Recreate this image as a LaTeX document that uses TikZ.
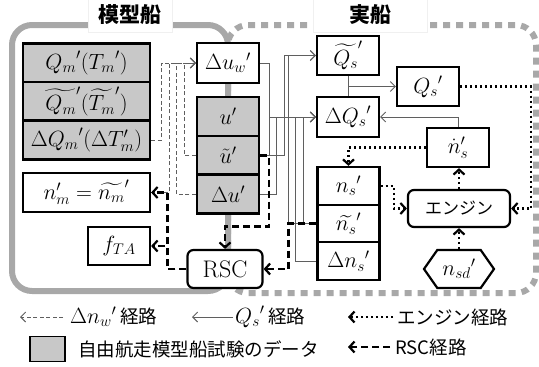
\RequirePackage{fix-cm}
\documentclass[tikz,border=0pt]{standalone}
\usepackage{amsmath}
\usepackage{fontspec}
\newfontfamily\jpfont{Noto Sans CJK JP}
\usetikzlibrary{arrows.meta,shapes.symbols}
\definecolor{shipgray}{RGB}{168,168,168}
\definecolor{datagray}{RGB}{200,200,200}
\definecolor{linegray}{RGB}{95,95,95}
\newcommand{\mathsz}{\fontsize{22}{25}\selectfont}
\newcommand{\jpsz}{\fontsize{18.5}{22}\selectfont\jpfont}

\begin{document}
\begin{tikzpicture}[x=1pt,y=-1pt,
    box/.style={draw,line width=2.2pt,fill=white,minimum width=62pt,
                minimum height=39pt,inner sep=0pt,font=\mathsz},
    data/.style={box,fill=datagray},
    rbox/.style={box,rounded corners=6pt},
    qpath/.style={draw=linegray,line width=0.9pt,-{Straight Barb[length=5pt,width=10pt]}},
    wpath/.style={draw=linegray,line width=0.9pt,dash pattern=on 4pt off 2.5pt,
                  -{Straight Barb[length=5pt,width=10pt]}},
    rpath/.style={line width=2.2pt,dash pattern=on 7pt off 4pt,-{Straight Barb[length=5pt,width=11pt]}},
    epath/.style={line width=2.2pt,dash pattern=on 2.2pt off 2.8pt,-{Straight Barb[length=5pt,width=11pt]}},
    shiplabel/.style={fill=white,draw=black!6,minimum height=35pt,
                      font=\fontsize{21}{24}\selectfont\jpfont\bfseries},
    legtext/.style={anchor=west,inner sep=0pt}]
  \useasboundingbox (0,0) rectangle (539,367);
  \draw[shipgray,line width=6pt,dash pattern=on 7pt off 6pt,rounded corners=20pt]
    (228,25) rectangle (536,293);
  \draw[shipgray,line width=6pt,rounded corners=20pt] (12,25) rectangle (228,291);
  \node[shiplabel,minimum width=84pt] (model) at (130,15) {模型船};
  \node[shiplabel,minimum width=114pt] (real) at (370,15) {実船};

  \node[data,minimum width=127pt] (qm)  at (86.5,63)    {${Q_m}'({T_m}')$};
  \node[data,minimum width=127pt] (qmt) at (86.5,101.5) {$\widetilde{Q_m}'(\widetilde{T_m}')$};
  \node[data,minimum width=127pt] (dqm) at (86.5,140)   {$\Delta{Q_m}'(\Delta T'_m)$};
  \node[box,minimum width=127pt]  (nm)  at (86.5,192.5) {$n'_m=\widetilde{n_m}'$};
  \node[box,minimum height=38pt]  (fta) at (119,246)    {$f_{TA}$};

  \node[box,minimum height=40pt] (duw) at (228,63)    {$\Delta{u_w}'$};
  \node[data] (u)  at (228,116.5) {$u'$};
  \node[data] (ut) at (228,155.5) {$\tilde{u}'$};
  \node[data] (du) at (228,194)   {$\Delta u'$};
  \node[rbox,minimum width=75pt,minimum height=38pt,font=\fontsize{24}{28}\selectfont]
    (rsc) at (225,269) {RSC};

  \node[box] (qst)   at (348,55.5)  {$\widetilde{Q_s}'$};
  \node[box] (qs)    at (428,86.5)  {${Q_s}'$};
  \node[box,minimum height=40pt] (dqs) at (348,117) {$\Delta{Q_s}'$};
  \node[box] (dotns) at (458,147.5) {${\dot{n}_s}'$};
  \node[box,minimum height=37.7pt] (ns)  at (348.5,185.8) {${n_s}'$};
  \node[box,minimum height=37.7pt] (nst) at (348.5,223.5) {$\widetilde{n_s}'$};
  \node[box,minimum height=37.7pt] (dns) at (348.5,261.2) {$\Delta{n_s}'$};
  \node[rbox,minimum width=102pt,minimum height=37pt,font=\fontsize{17}{20}\selectfont\jpfont]
    (eng) at (459,208.5) {エンジン};
  \node[box,shape=signal,signal to=east and west,signal pointer angle=110,
        minimum width=70pt,minimum height=38pt] (nsd) at (459,269) {${n_{sd}}'$};

  \draw[wpath] (dqm.east) -- ++(10,0) |- (duw.west);
  \draw[wpath] (nm.east) -- ++(18,0) |- (duw.west);
  \draw[wpath] (du.west) -- ++(-19,0) |- (duw.west);
  \draw[wpath] (ut.west) -- ++(-11,0) |- (duw.west);

  \draw[qpath] (duw.east) -- ++(9,0) |- (dqs.west);
  \draw[qpath] (ut.east) -- ++(9,0) |- (dqs.west);
  \draw[qpath] (du.east) -- ++(16,0) |- (dqs.west);
  \draw[qpath] (ut.east) -- ++(24,0) |- (qst.west);
  \draw[qpath] (nst.west) -- ++(-28,0) |- (qst.west);
  \draw[qpath] (nst.west) -- ++(-13,0) |- (dqs.west);
  \draw[qpath] (dns.west) -- ++(-21,0) |- (dqs.west);
  \draw[linegray,line width=0.9pt] (qst.south) -- (dqs.north);
  \draw[qpath] (qs.west -| qst.south) -- (qs.west);
  \draw[qpath] (dotns.north) |- (dqs.east);

  \draw[rpath] (ut.east) -- ++(9,0) -- ++(0,71) -| (rsc.north);
  \draw[rpath] (nst.west) -- ++(-28,0) |- (rsc.east);
  \draw[rpath] (rsc.west) -- ++(-19,0) |- (nm.east);
  \draw[rpath] (rsc.west) -- ++(-19,0) |- (fta.east);

  \draw[epath] (qs.east) -- ++(71,0) |- (eng.east);
  \draw[epath] (eng.north) -- (eng.north |- dotns.south);
  \draw[epath] (dotns.west) -| (ns.north);
  \draw[epath] (ns.east) -- ++(13,0) |- (eng.west);
  \draw[epath] (nsd.north) -- (eng.south);

  \coordinate (wa) at (20,317);  \coordinate (wb) at (63,317);
  \coordinate (qa) at (192,317); \coordinate (qb) at (233,317);
  \coordinate (ea) at (348,317); \coordinate (eb) at (393,317);
  \coordinate (ra) at (348,347); \coordinate (rb) at (390,347);
  \draw[wpath] (wb) -- (wa);
  \draw[qpath] (qb) -- (qa);
  \draw[epath] (eb) -- (ea);
  \draw[rpath] (rb) -- (ra);
  \node[legtext] (wtxt) at (70,317)  {\mathsz$\Delta{n_w}'$\,\jpsz 経路};
  \node[legtext] (qtxt) at (235,317) {\mathsz${Q_s}'$\,\jpsz 経路};
  \node[legtext] (etxt) at (397,317) {\jpsz エンジン経路};
  \node[draw,line width=1.8pt,fill=datagray,minimum width=35pt,minimum height=25pt]
    (key) at (47.5,349) {};
  \node[legtext] (ktxt) at (78,349)  {\jpsz 自由航走模型船試験のデータ};
  \node[legtext] (rtxt) at (395,347) {\jpsz RSC経路};
\end{tikzpicture}
\end{document}
